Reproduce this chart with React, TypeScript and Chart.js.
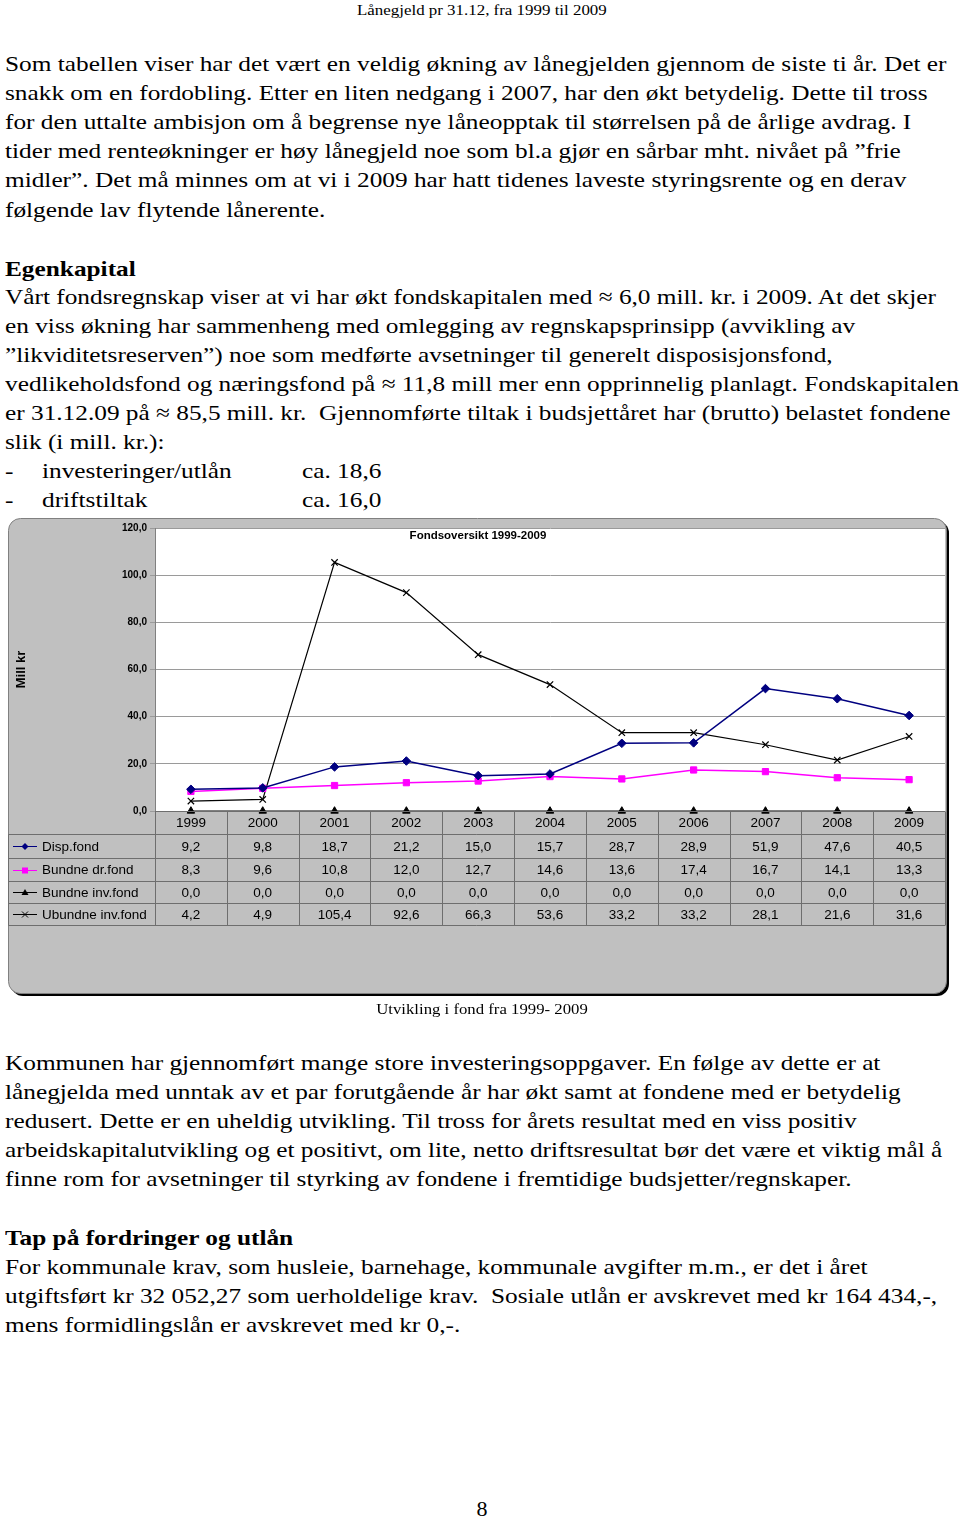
import React, { useEffect, useRef } from 'react';
import { Chart, registerables } from 'chart.js';

Chart.register(...registerables);

// ---- Data ----
const years = ['1999', '2000', '2001', '2002', '2003', '2004', '2005', '2006', '2007', '2008', '2009'];
const dispFond = [9.2, 9.8, 18.7, 21.2, 15.0, 15.7, 28.7, 28.9, 51.9, 47.6, 40.5];
const bundneDrFond = [8.3, 9.6, 10.8, 12.0, 12.7, 14.6, 13.6, 17.4, 16.7, 14.1, 13.3];
const bundneInvFond = [0, 0, 0, 0, 0, 0, 0, 0, 0, 0, 0];
const ubundneInvFond = [4.2, 4.9, 105.4, 92.6, 66.3, 53.6, 33.2, 33.2, 28.1, 21.6, 31.6];
const seriesNames = ['Disp.fond', 'Bundne dr.fond', 'Bundne inv.fond', 'Ubundne inv.fond'];
const yMin = 0;
const yMax = 120;
const yStep = 20;
const chartTitle = 'Fondsoversikt 1999-2009';
const yAxisTitle = 'Mill kr';
const caption = 'Utvikling i fond fra 1999- 2009';

const seriesValues = [dispFond, bundneDrFond, bundneInvFond, ubundneInvFond];
const seriesColors = ['#000080', '#ff00ff', '#000000', '#000000'];
const seriesMarkers = ['rectRot', 'rect', 'triangle', 'crossRot'];

const fmt = (v: number) => v.toFixed(1).replace('.', ',');

const SANS = '"Liberation Sans", Arial, sans-serif';
const SERIF = '"Liberation Serif", "Times New Roman", serif';

function drawMarker(ctx: CanvasRenderingContext2D, style: string, x: number, y: number, color: string) {
  ctx.save();
  ctx.fillStyle = color;
  ctx.strokeStyle = color;
  ctx.lineWidth = 1;
  ctx.beginPath();
  if (style === 'rectRot') {
    ctx.moveTo(x, y - 3.5);
    ctx.lineTo(x + 3.5, y);
    ctx.lineTo(x, y + 3.5);
    ctx.lineTo(x - 3.5, y);
    ctx.closePath();
    ctx.fill();
  } else if (style === 'rect') {
    ctx.rect(x - 3, y - 3, 6, 6);
    ctx.fill();
  } else if (style === 'triangle') {
    ctx.moveTo(x, y - 3.5);
    ctx.lineTo(x + 3.5, y + 2.5);
    ctx.lineTo(x - 3.5, y + 2.5);
    ctx.closePath();
    ctx.fill();
  } else {
    ctx.moveTo(x - 3, y - 3);
    ctx.lineTo(x + 3, y + 3);
    ctx.moveTo(x + 3, y - 3);
    ctx.lineTo(x - 3, y + 3);
    ctx.stroke();
  }
  ctx.restore();
}

const framePlugin = {
  id: 'frame',
  beforeDraw(chart: any) {
    const ctx: CanvasRenderingContext2D = chart.ctx;
    const a = chart.chartArea;
    ctx.save();
    ctx.fillStyle = '#000000';
    ctx.beginPath();
    (ctx as any).roundRect(11, 11, 938, 475, 12);
    ctx.fill();
    ctx.fillStyle = '#c0c0c0';
    ctx.strokeStyle = '#808080';
    ctx.lineWidth = 1;
    ctx.beginPath();
    (ctx as any).roundRect(8.5, 8.5, 938, 475, 12);
    ctx.fill();
    ctx.stroke();
    ctx.fillStyle = '#ffffff';
    ctx.fillRect(a.left, a.top, a.right - a.left, a.bottom - a.top);
    ctx.restore();
  },
  afterDraw(chart: any) {
    const ctx: CanvasRenderingContext2D = chart.ctx;
    const a = chart.chartArea;
    const xs = chart.scales.x;
    const n = years.length;
    const band = (a.right - a.left) / n;
    const rows = [0, 23, 47, 70, 92, 114].map((d) => a.bottom + d);
    const tableLeft = 8.5;

    ctx.save();
    ctx.strokeStyle = '#6e6e6e';
    ctx.lineWidth = 1;
    ctx.beginPath();
    ctx.moveTo(a.left, Math.round(rows[0]) + 0.5);
    ctx.lineTo(a.right, Math.round(rows[0]) + 0.5);
    for (let r = 1; r < rows.length; r++) {
      const y = Math.round(rows[r]) + 0.5;
      ctx.moveTo(tableLeft, y);
      ctx.lineTo(a.right, y);
    }
    ctx.moveTo(tableLeft, Math.round(rows[1]) + 0.5);
    ctx.lineTo(tableLeft, Math.round(rows[5]) + 0.5);
    for (let i = 0; i <= n; i++) {
      const x = Math.round(a.left + i * band) + 0.5;
      ctx.moveTo(x, Math.round(rows[0]) + 0.5);
      ctx.lineTo(x, Math.round(rows[5]) + 0.5);
    }
    ctx.stroke();

    ctx.fillStyle = '#000000';
    ctx.font = '13.5px ' + SANS;
    ctx.textAlign = 'center';
    ctx.textBaseline = 'middle';
    for (let i = 0; i < n; i++) {
      const cx = xs.getPixelForValue(i);
      ctx.fillText(years[i], cx, (rows[0] + rows[1]) / 2 + 1);
    }
    for (let s = 0; s < seriesValues.length; s++) {
      const cy = (rows[s + 1] + rows[s + 2]) / 2 + 1;
      for (let i = 0; i < n; i++) {
        const cx = xs.getPixelForValue(i);
        ctx.textAlign = 'center';
        ctx.fillText(fmt(seriesValues[s][i]), cx, cy);
      }
      ctx.strokeStyle = seriesColors[s];
      ctx.lineWidth = 1;
      ctx.beginPath();
      ctx.moveTo(13, Math.round(cy) + 0.5 - 1);
      ctx.lineTo(37, Math.round(cy) + 0.5 - 1);
      ctx.stroke();
      drawMarker(ctx, seriesMarkers[s], 25, Math.round(cy) - 0.5, seriesColors[s]);
      ctx.fillStyle = '#000000';
      ctx.textAlign = 'left';
      ctx.fillText(seriesNames[s], 42, cy);
    }

    ctx.font = 'bold 11.5px ' + SANS;
    ctx.textAlign = 'center';
    ctx.fillText(chartTitle, 478, 26);

    ctx.save();
    ctx.translate(21, (a.top + a.bottom) / 2);
    ctx.rotate(-Math.PI / 2);
    ctx.font = 'bold 13px ' + SANS;
    ctx.textAlign = 'center';
    ctx.textBaseline = 'middle';
    ctx.fillText(yAxisTitle, 0, 0);
    ctx.restore();

    ctx.restore();
  },
};

type Line = { text: string; base: number; bold?: boolean; x?: number };

const block1: Line[] = [
  { text: 'Som tabellen viser har det vært en veldig økning av lånegjelden gjennom de siste ti år. Det er', base: 72 },
  { text: 'snakk om en fordobling. Etter en liten nedgang i 2007, har den økt betydelig. Dette til tross', base: 101 },
  { text: 'for den uttalte ambisjon om å begrense nye låneopptak til størrelsen på de årlige avdrag. I', base: 130.5 },
  { text: 'tider med renteøkninger er høy lånegjeld noe som bl.a gjør en sårbar mht. nivået på \u201dfrie', base: 159.5 },
  { text: 'midler\u201d. Det må minnes om at vi i 2009 har hatt tidenes laveste styringsrente og en derav', base: 188.5 },
  { text: 'følgende lav flytende lånerente.', base: 218 },
  { text: 'Egenkapital', base: 277, bold: true },
  { text: 'Vårt fondsregnskap viser at vi har økt fondskapitalen med \u2248 6,0 mill. kr. i 2009. At det skjer', base: 305.5 },
  { text: 'en viss økning har sammenheng med omlegging av regnskapsprinsipp (avvikling av', base: 334.5 },
  { text: '\u201dlikviditetsreserven\u201d) noe som medførte avsetninger til generelt disposisjonsfond,', base: 363.5 },
  { text: 'vedlikeholdsfond og næringsfond på \u2248 11,8 mill mer enn opprinnelig planlagt. Fondskapitalen', base: 392.5 },
  { text: 'er 31.12.09 på \u2248 85,5 mill. kr.  Gjennomførte tiltak i budsjettåret har (brutto) belastet fondene', base: 421.5 },
  { text: 'slik (i mill. kr.):', base: 450.5 },
  { text: '-', base: 479.5 },
  { text: 'investeringer/utlån', base: 479.5, x: 42 },
  { text: 'ca. 18,6', base: 479.5, x: 302 },
  { text: '-', base: 508.5 },
  { text: 'driftstiltak', base: 508.5, x: 42 },
  { text: 'ca. 16,0', base: 508.5, x: 302 },
];

const block2: Line[] = [
  { text: 'Kommunen har gjennomført mange store investeringsoppgaver. En følge av dette er at', base: 1071.5 },
  { text: 'lånegjelda med unntak av et par forutgående år har økt samt at fondene med er betydelig', base: 1100.5 },
  { text: 'redusert. Dette er en uheldig utvikling. Til tross for årets resultat med en viss positiv', base: 1129.5 },
  { text: 'arbeidskapitalutvikling og et positivt, om lite, netto driftsresultat bør det være et viktig mål å', base: 1158.5 },
  { text: 'finne rom for avsetninger til styrking av fondene i fremtidige budsjetter/regnskaper.', base: 1187.5 },
  { text: 'Tap på fordringer og utlån', base: 1246.5, bold: true },
  { text: 'For kommunale krav, som husleie, barnehage, kommunale avgifter m.m., er det i året', base: 1275.5 },
  { text: 'utgiftsført kr 32 052,27 som uerholdelige krav.  Sosiale utlån er avskrevet med kr 164 434,-,', base: 1304.5 },
  { text: 'mens formidlingslån er avskrevet med kr 0,-.', base: 1333.5 },
];

const BODY_FS = 22;
const BODY_LH = 29;
const BODY_SX = 1.15;
const BODY_SHIFT = -1.5;

const baseOffset = (lh: number, fs: number) => (lh - 1.107 * fs) / 2 + 0.891 * fs;

function TextLine({ line }: { line: Line }) {
  return (
    <div
      style={{
        position: 'absolute',
        left: line.x ?? 5,
        top: line.base + BODY_SHIFT - baseOffset(BODY_LH, BODY_FS),
        fontFamily: SERIF,
        fontSize: BODY_FS,
        lineHeight: BODY_LH + 'px',
        fontWeight: line.bold ? 'bold' : 'normal',
        whiteSpace: 'pre',
        color: '#000',
        transform: `scaleX(${BODY_SX})`,
        transformOrigin: 'left center',
      }}
    >
      {line.text}
    </div>
  );
}

function FondChart() {
  const ref = useRef<HTMLCanvasElement | null>(null);
  useEffect(() => {
    if (!ref.current) return;
    const chart = new Chart(ref.current, {
      type: 'line',
      data: {
        labels: years,
        datasets: seriesNames.map((name, s) => ({
          label: name,
          data: seriesValues[s],
          borderColor: seriesColors[s],
          backgroundColor: seriesColors[s],
          borderWidth: s === 0 || s === 1 ? 1.5 : 1.2,
          pointStyle: seriesMarkers[s] as any,
          pointRadius: s === 1 ? 4.4 : s === 3 ? 4.5 : 4.3,
          pointBorderWidth: s === 3 ? 1.2 : 1,
          pointBorderColor: seriesColors[s],
          pointBackgroundColor: seriesColors[s],
          tension: 0,
          clip: false as any,
          fill: false,
        })),
      },
      options: {
        responsive: false,
        animation: false,
        devicePixelRatio: 1,
        layout: { padding: { left: 8, top: 18, right: 15, bottom: 194 } },
        plugins: {
          legend: { display: false },
          title: { display: false },
          tooltip: { enabled: false },
        },
        scales: {
          x: {
            type: 'category',
            display: false,
            offset: true,
          },
          y: {
            min: yMin,
            max: yMax,
            afterFit: (s: any) => {
              s.width = 147;
            },
            ticks: {
              stepSize: yStep,
              color: '#000',
              padding: 3,
              font: { family: SANS, size: 10, weight: 'bold' },
              callback: (v: any) => fmt(Number(v)),
            },
            grid: {
              color: '#9a9a9a',
              lineWidth: 1,
              tickLength: 5,
            },
            border: { display: true, color: '#808080', width: 1 },
          },
        },
      },
      plugins: [framePlugin],
    } as any);
    return () => chart.destroy();
  }, []);
  return (
    <canvas
      ref={ref}
      width={960}
      height={495}
      style={{ position: 'absolute', left: 0, top: 510, width: 960, height: 495 }}
    />
  );
}

export default function App() {
  return (
    <div
      style={{
        position: 'absolute',
        left: 0,
        top: 0,
        width: 960,
        height: 1519,
        overflow: 'hidden',
        background: '#fff',
      }}
    >
      <div
        style={{
          position: 'absolute',
          left: 357,
          top: 15 - baseOffset(20, 15),
          fontFamily: SERIF,
          fontSize: 15,
          lineHeight: '20px',
          whiteSpace: 'pre',
          transform: 'scaleX(1.127)',
          transformOrigin: 'left center',
        }}
      >
        Lånegjeld pr 31.12, fra 1999 til 2009
      </div>
      {block1.map((l, i) => (
        <TextLine key={'a' + i} line={l} />
      ))}
      <FondChart />
      <div
        style={{
          position: 'absolute',
          left: 0,
          width: 964,
          textAlign: 'center',
          top: 1014.5 - baseOffset(20, 15.5),
          fontFamily: SERIF,
          fontSize: 15.5,
          lineHeight: '20px',
          whiteSpace: 'pre',
          transform: 'scaleX(1.08)',
          transformOrigin: '482px center',
        }}
      >
        {caption}
      </div>
      {block2.map((l, i) => (
        <TextLine key={'b' + i} line={l} />
      ))}
      <div
        style={{
          position: 'absolute',
          left: 0,
          width: 964,
          textAlign: 'center',
          top: 1516 - baseOffset(29, 22),
          fontFamily: SERIF,
          fontSize: 22,
          lineHeight: '29px',
        }}
      >
        8
      </div>
    </div>
  );
}
